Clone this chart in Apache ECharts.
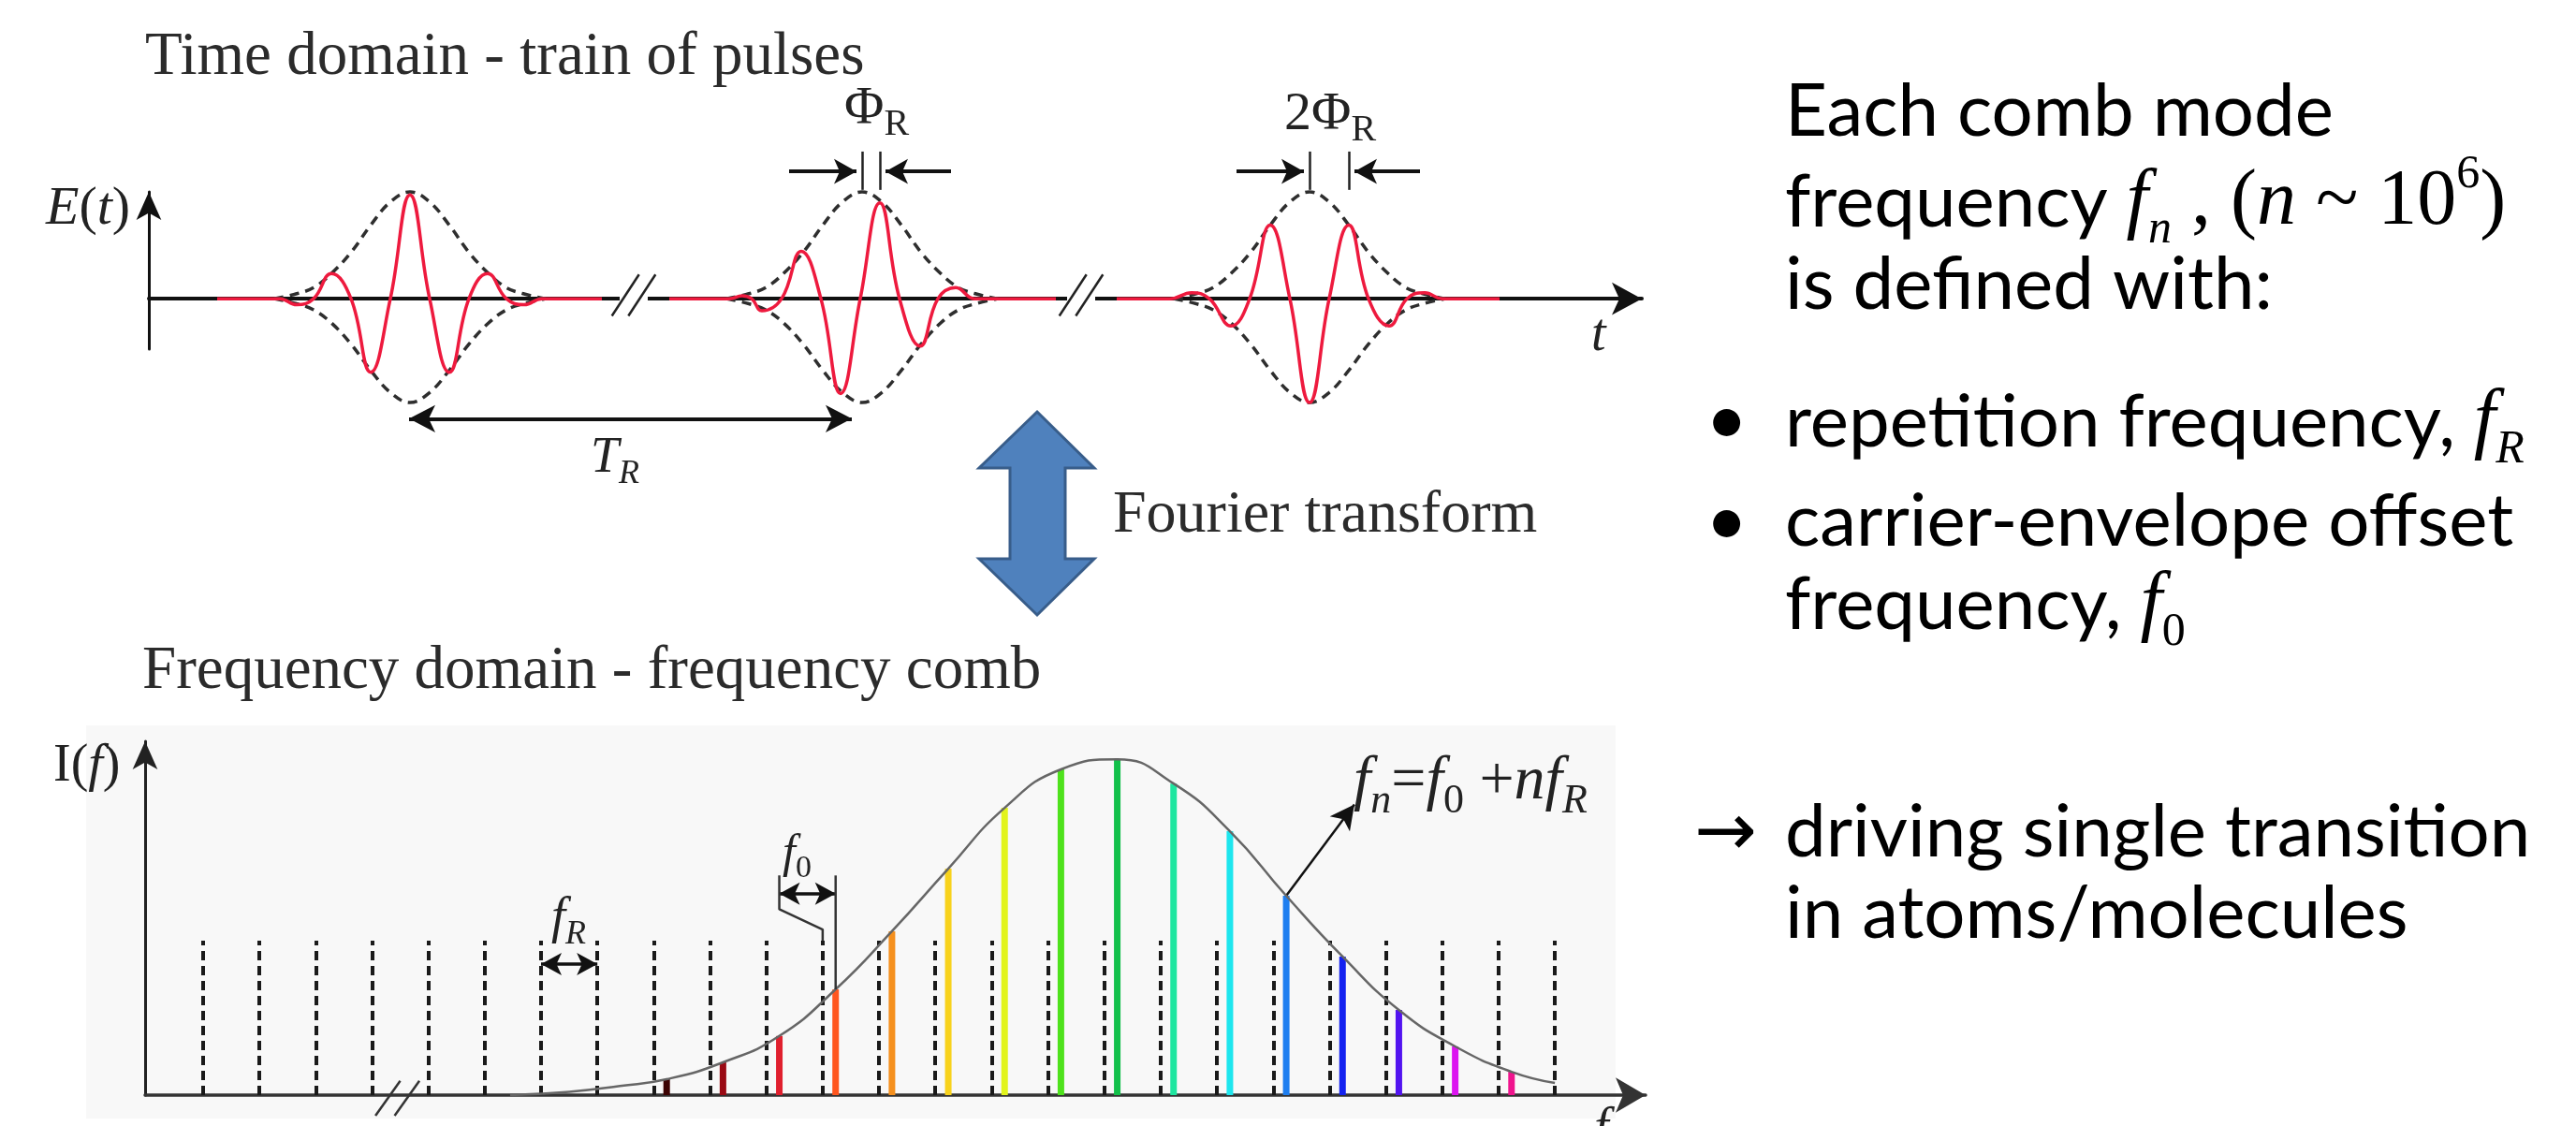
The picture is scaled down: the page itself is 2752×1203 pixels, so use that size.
<!DOCTYPE html>
<html>
<head>
<meta charset="utf-8">
<title>Frequency comb</title>
<script src="https://cdn.jsdelivr.net/npm/echarts@6/dist/echarts.min.js"></script>
<style>
html,body{margin:0;padding:0;background:#fff;}
#main{width:2752px;height:1203px;}
</style>
</head>
<body>
<div id="main"></div>
<script>
// ---- time domain (t in arbitrary units from the E axis, E relative to envelope peak)
var pulseCentres = [27.9, 76.2, 124.0];
var envOffsets = [-14.5, -12.1, -10.3, -8.4, -6.3, -4.2, -2.1, 0, 2.1, 4.2, 6.3, 8.4, 10.3, 12.1, 14.5];
var envUpper = [0, 0.05, 0.11, 0.25, 0.46, 0.73, 0.96, 1.06, 0.96, 0.73, 0.46, 0.25, 0.11, 0.05, 0];
var envLower = [0, -0.05, -0.11, -0.24, -0.45, -0.71, -0.93, -1.03, -0.93, -0.71, -0.45, -0.24, -0.11, -0.05, 0];

var pulse1T = [7.3, 14.0, 15.8, 17.6, 19.5, 21.6, 23.7, 25.8, 27.9, 30.0, 32.1, 34.2, 36.2, 38.2, 40.1, 42.0, 48.4];
var pulse1E = [0, 0, -0.06, 0, 0.25, 0, -0.73, 0, 1.03, 0, -0.73, 0, 0.25, 0, -0.06, 0, 0];
var pulse2T = [55.6, 62.0, 63.4, 64.4, 65.5, 67.6, 69.7, 71.8, 73.9, 76.0, 78.1, 80.2, 82.4, 84.3, 86.2, 88.2, 90.5, 96.9];
var pulse2E = [0, 0, 0.03, 0, -0.12, 0, 0.47, 0, -0.94, 0, 0.95, 0, -0.47, 0, 0.11, 0, 0, 0];
var pulse3T = [103.4, 109.1, 111.4, 113.3, 115.6, 117.6, 119.8, 121.9, 124.0, 126.1, 128.2, 130.3, 132.5, 134.4, 136.3, 138.2, 144.3];
var pulse3E = [0, 0, 0.06, 0, -0.27, 0, 0.73, 0, -1.03, 0, 0.73, 0, -0.27, 0, 0.06, 0, 0];

var breakT = [51.8, 99.6];
var phaseTicks = [[76.2, 78.1], [124.0, 128.2]];   // envelope centre, carrier peak
var repPeriod = [27.8, 75.1];                       // T_R arrow ends
var repArrowE = -1.19, phaseArrowE = 1.263, phaseTickE = [1.08, 1.46];

// ---- frequency domain (n = mode index, I relative to peak)
var gridModes = [];
for (var k = 0; k <= 24; k++) gridModes.push(k);
var gridHeight = 0.457;
var combModes = [8, 9, 10, 11, 12, 13, 14, 15, 16, 17, 18, 19, 20, 21, 22, 23];
var f0 = 0.23;
var combHeights = [0.047, 0.097, 0.175, 0.313, 0.485, 0.670, 0.850, 0.964, 0.994, 0.922, 0.781, 0.590, 0.410, 0.252, 0.144, 0.069];
var combColors = ['#3c0303', '#9a0a14', '#e0202e', '#ff561e', '#f5901e', '#f8d21c', '#e2f41c', '#4ee21c',
                  '#12c04a', '#1ee6a0', '#1ee6ee', '#1e7ef0', '#1422f0', '#5214f0', '#dc14f0', '#f0148e'];
var gaussN = [5.45, 6.5, 7.4, 8.23, 9.23, 10.23, 11.23, 12.23, 13.23, 14.23, 15.23, 16.23, 17.23, 18.23, 19.23, 20.23, 21.23, 22.23, 23.23, 24.0];
var gaussI = [0, 0.01, 0.027, 0.047, 0.097, 0.175, 0.313, 0.485, 0.670, 0.850, 0.964, 0.994, 0.922, 0.781, 0.590, 0.410, 0.252, 0.144, 0.069, 0.036];
var breakN = 3.45;
var f0BracketTop = 0.65, f0BracketKnee = 0.55, f0ArrowI = 0.596;
var fRArrow = [6, 7], fRArrowI = 0.388;
var fnPointer = [[19.23, 0.59], [20.44, 0.86]];

var SERIF = '"Liberation Serif", "Times New Roman", serif';
var SANS = 'Lato, "Open Sans", sans-serif';

function pts(xs, ys) { return xs.map(function (x, i) { return [x, ys[i]]; }); }

var chart = echarts.init(document.getElementById('main'));

// time grid geometry; grid 2 is a hidden overlay with the same scale for annotations
var tLeft = 159, tWidth = 1595, tMax = 159.5;
var tTop = 205, tHeight = 168, tMinE = -0.5, tMaxE = 1.06;
var tPx = tHeight / (tMaxE - tMinE), tZero = tTop + tMaxE * tPx;
var oTop = 100, oBottom = 490;

var series = [];
var lineBase = { type: 'line', symbol: 'none', clip: false, silent: true, animation: false };
function line(g, data, style, extra) {
  var s = Object.assign({}, lineBase, { xAxisIndex: g, yAxisIndex: g, data: data, lineStyle: style }, extra || {});
  series.push(s);
  return s;
}

// time axis breaks
breakT.forEach(function (c) {
  line(0, [[c - 1.5, 0], [c + 1.5, 0]], { color: '#fff', width: 9 }, { z: 3 });
  [-0.88, 0.88].forEach(function (d) {
    line(0, [[c + d - 1.45, -0.17], [c + d + 1.45, 0.24]], { color: '#222', width: 2.5 }, { z: 4 });
  });
});
// envelopes
pulseCentres.forEach(function (c) {
  var xs = envOffsets.map(function (o) { return c + o; });
  line(0, pts(xs, envUpper), { color: '#2e2e2e', width: 3.5, type: [10, 7] }, { smooth: 0.4, z: 4 });
  line(0, pts(xs, envLower), { color: '#2e2e2e', width: 3.5, type: [10, 7] }, { smooth: 0.4, z: 4 });
});
// carriers
[[pulse1T, pulse1E], [pulse2T, pulse2E], [pulse3T, pulse3E]].forEach(function (p) {
  line(0, pts(p[0], p[1]), { color: '#ee1a3e', width: 3.5 }, { smooth: 0.45, z: 5 });
});
// time-domain annotations (overlay grid)
var tMarks = [];
tMarks.push([{ coord: [repPeriod[0], repArrowE], symbol: 'arrow', symbolSize: [22, 28] },
             { coord: [repPeriod[1], repArrowE], symbol: 'arrow', symbolSize: [22, 28] }]);
phaseTicks.forEach(function (pk) {
  pk.forEach(function (x) {
    tMarks.push([{ coord: [x, phaseTickE[0]], symbol: 'none', lineStyle: { width: 2.5, color: '#222' } },
                 { coord: [x, phaseTickE[1]], symbol: 'none' }]);
  });
  var gapL = pk[0] - 0.6, gapR = pk[1] + 0.6;
  tMarks.push([{ coord: [gapL - 7.2, phaseArrowE], symbol: 'none' }, { coord: [gapL, phaseArrowE], symbol: 'arrow', symbolSize: [20, 24] }]);
  tMarks.push([{ coord: [gapR + 7.0, phaseArrowE], symbol: 'none' }, { coord: [gapR, phaseArrowE], symbol: 'arrow', symbolSize: [20, 24] }]);
});
line(2, [[0, 0]], { opacity: 0 }, {
  z: 6,
  markLine: { silent: true, animation: false, symbol: ['none', 'none'], label: { show: false },
    lineStyle: { color: '#111', width: 4, type: 'solid' }, emphasis: { disabled: true }, data: tMarks }
});

// frequency domain
line(1, [[gridModes[0], 0]], { opacity: 0 }, {
  z: 3,
  markLine: { silent: true, animation: false, symbol: ['none', 'none'], label: { show: false },
    emphasis: { disabled: true },
    lineStyle: { color: '#1a1a1a', width: 4, type: [10, 6] },
    data: gridModes.map(function (n) { return [{ coord: [n, 0] }, { coord: [n, gridHeight] }]; }) }
});
series.push({
  type: 'bar', xAxisIndex: 1, yAxisIndex: 1, barWidth: 7, silent: true, z: 4, animation: false,
  data: combModes.map(function (m, i) {
    return { value: [m + f0, combHeights[i]], itemStyle: { color: combColors[i] } };
  })
});
line(1, pts(gaussN, gaussI), { color: '#666', width: 2.5 }, { smooth: 0.5, z: 5 });
[-0.17, 0.17].forEach(function (d) {
  line(1, [[breakN + d - 0.22, -0.061], [breakN + d + 0.22, 0.042]], { color: '#333', width: 2.5 }, { z: 6 });
});
var f0Left = combModes[2] + f0, f0Right = combModes[3] + f0;
line(1, [[f0Left, f0BracketTop], [f0Left, f0BracketKnee], [combModes[3], f0BracketKnee - 0.06], [combModes[3], gridHeight]],
  { color: '#333', width: 2.5 }, { z: 6 });
line(1, [[f0Right, f0BracketTop], [f0Right, combHeights[3]]], { color: '#333', width: 2.5 }, { z: 6 });
line(1, [[0, 0]], { opacity: 0 }, {
  z: 7,
  markLine: { silent: true, animation: false, label: { show: false }, emphasis: { disabled: true },
    lineStyle: { color: '#111', width: 3.5, type: 'solid' },
    data: [
      [{ coord: [f0Left, f0ArrowI], symbol: 'arrow', symbolSize: [18, 22] }, { coord: [f0Right, f0ArrowI], symbol: 'arrow', symbolSize: [18, 22] }],
      [{ coord: [fRArrow[0], fRArrowI], symbol: 'arrow', symbolSize: [18, 22] }, { coord: [fRArrow[1], fRArrowI], symbol: 'arrow', symbolSize: [18, 22] }],
      [{ coord: fnPointer[0], symbol: 'none', lineStyle: { width: 2.5 } }, { coord: fnPointer[1], symbol: 'arrow', symbolSize: [20, 26] }]
    ] }
});

// ---- text
function rich(size, sub, sansSize) {
  var L = Math.round(size * 1.3);
  return {
    L: L,
    r: { fontFamily: SERIF, fontSize: size, lineHeight: L },
    i: { fontFamily: SERIF, fontStyle: 'italic', fontSize: size, lineHeight: L },
    s: { fontFamily: SANS, fontSize: sansSize || size, lineHeight: L },
    sub: { fontFamily: SERIF, fontStyle: 'italic', fontSize: sub, lineHeight: sub, verticalAlign: 'bottom' },
    subr: { fontFamily: SERIF, fontSize: sub, lineHeight: sub, verticalAlign: 'bottom' },
    sup: { fontFamily: SERIF, fontSize: sub, lineHeight: Math.round(sub * 1.6), verticalAlign: 'top' }
  };
}
function math(x, base, text, size, sub, color, sansSize) {
  var r = rich(size, sub || Math.round(size * 0.68), sansSize);
  var L = r.L; delete r.L;
  return { type: 'text', z: 50, silent: true,
    style: { x: x, y: base - L / 2 - 0.34 * size, text: text, fill: color || '#222',
      textAlign: 'left', textVerticalAlign: 'top', rich: r } };
}
function plain(x, base, text, size, family, color) {
  var k = family === SANS ? 0.39 : 0.34;
  var L = Math.round(size * 1.3);
  return { type: 'text', z: 50, silent: true,
    style: { x: x, y: base - L / 2 - k * size, text: text, fill: color || '#222',
      fontFamily: family, fontSize: size, lineHeight: L, textAlign: 'left', textVerticalAlign: 'top' } };
}

var NOTE = 78;
var graphics = [
  { type: 'rect', z: -10, silent: true, shape: { x: 92, y: 775, width: 1634, height: 420 }, style: { fill: '#f8f8f8' } },
  { type: 'polygon', z: 10, silent: true,
    shape: { points: [[1108, 440], [1169, 500], [1138, 500], [1138, 597], [1169, 597], [1108, 657], [1046, 597], [1079, 597], [1079, 500], [1046, 500]] },
    style: { fill: '#4f81bd', stroke: '#385d8a', lineWidth: 3 } },
  plain(155, 84, 'Time domain - train of pulses', 65, SERIF, '#2b2b2b'),
  plain(152, 740, 'Frequency domain - frequency comb', 65, SERIF, '#2b2b2b'),
  plain(1189, 573, 'Fourier transform', 64, SERIF, '#2b2b2b'),
  math(49, 243, '{i|E}{r|(}{i|t}{r|)}', 58),
  math(57, 838, '{r|I(}{i|f}{r|)}', 56),
  math(1700, 378, '{i|t}', 56),
  math(1703, 1226, '{i|f}', 56),
  math(631, 508, '{i|T}{sub|R}', 54, 36),
  math(902, 136, '{r|Φ}{subr|R}', 58, 40),
  math(1372, 142, '{r|2Φ}{subr|R}', 58, 40),
  math(589, 1000, '{i|f}{sub|R}', 54, 36),
  math(836, 930, '{i|f}{subr|0}', 50, 34),
  math(1446, 858, '{i|f}{sub|n}{r|=}{i|f}{subr|0}{r| +}{i|nf}{sub|R}', 66, 44),
  // right-hand notes
  plain(1907, 150, 'Each comb mode', NOTE, SANS, '#000'),
  math(1907, 245, '{s|frequency }{i|f}{sub|n}{r| , (}{i|n}{r| ~ 10}{sup|6}{r|)}', 84, 50, '#000', NOTE),
  plain(1907, 335, 'is defined with:', NOTE, SANS, '#000'),
  plain(1822, 480, '\u2022', NOTE, SANS, '#000'),
  math(1907, 480, '{s|repetition frequency, }{i|f}{sub|R}', 84, 50, '#000', NOTE),
  plain(1822, 588, '\u2022', NOTE, SANS, '#000'),
  plain(1907, 588, 'carrier-envelope offset', NOTE, SANS, '#000'),
  math(1907, 675, '{s|frequency, }{i|f}{subr|0}', 84, 50, '#000', NOTE),
  plain(1810, 920, '\u2192', 80, '"DejaVu Sans", sans-serif', '#000'),
  plain(1907, 920, 'driving single transition', NOTE, SANS, '#000'),
  plain(1907, 1007, 'in atoms/molecules', NOTE, SANS, '#000')
];

var hidden = { axisTick: { show: false }, axisLabel: { show: false }, splitLine: { show: false } };

chart.setOption({
  animation: false,
  backgroundColor: '#fff',
  grid: [
    { left: tLeft, top: tTop, width: tWidth, height: tHeight, outerBoundsMode: 'none' },
    { left: 155, top: 792, width: 1603, height: 378, outerBoundsMode: 'none' },
    { left: tLeft, top: oTop, width: tWidth, height: oBottom - oTop, outerBoundsMode: 'none' }
  ],
  xAxis: [
    Object.assign({ gridIndex: 0, type: 'value', min: 0, max: tMax,
      axisLine: { onZero: true, symbol: ['none', 'arrow'], symbolSize: [26, 32], lineStyle: { color: '#111', width: 4 } } }, hidden),
    Object.assign({ gridIndex: 1, type: 'value', min: -1.03, max: 25.61,
      axisLine: { onZero: true, symbol: ['none', 'arrow'], symbolSize: [28, 32], lineStyle: { color: '#333', width: 3.5 } } }, hidden),
    { gridIndex: 2, type: 'value', min: 0, max: tMax, show: false }
  ],
  yAxis: [
    Object.assign({ gridIndex: 0, type: 'value', min: tMinE, max: tMaxE,
      axisLine: { onZero: false, symbol: ['none', 'arrow'], symbolSize: [20, 30], lineStyle: { color: '#111', width: 3 } } }, hidden),
    Object.assign({ gridIndex: 1, type: 'value', min: 0, max: 1.047,
      axisLine: { onZero: false, symbol: ['none', 'arrow'], symbolSize: [20, 30], lineStyle: { color: '#222', width: 3 } } }, hidden),
    { gridIndex: 2, type: 'value', min: -(oBottom - tZero) / tPx, max: (tZero - oTop) / tPx, show: false }
  ],
  graphic: graphics,
  series: series
});
</script>
</body>
</html>
